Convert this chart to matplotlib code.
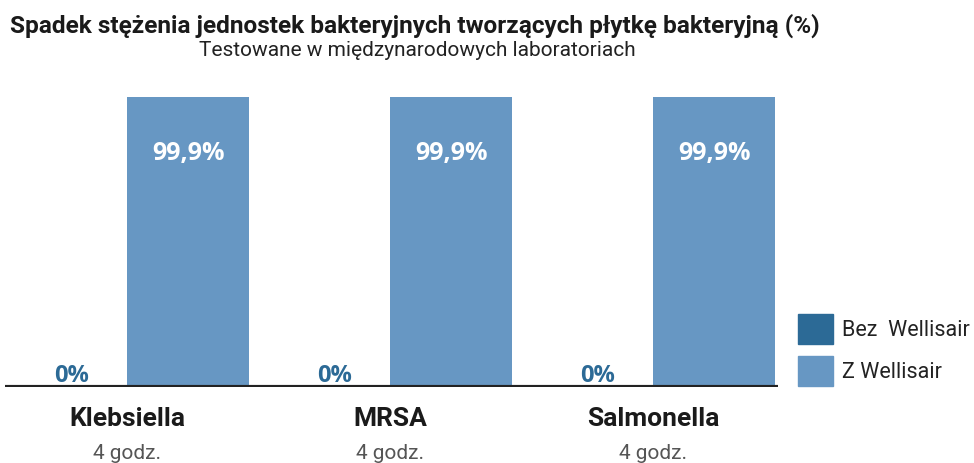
import matplotlib.pyplot as plt
from matplotlib.patches import Patch

plt.rcParams['font.family'] = ['Roboto', 'DejaVu Sans']

categories = ['Klebsiella', 'MRSA', 'Salmonella']
czas = ['4 godz.', '4 godz.', '4 godz.']
bez_wellisair = [0, 0, 0]
z_wellisair = [99.9, 99.9, 99.9]
etykiety_bez = ['0%', '0%', '0%']
etykiety_z = ['99,9%', '99,9%', '99,9%']

kolor_bez = '#2c6a96'
kolor_z = '#6797c3'

fig = plt.figure(figsize=(9.74, 4.63), dpi=100)
ax = fig.add_axes([5 / 974, 76 / 463, 773 / 974, 290 / 463])

x = list(range(len(categories)))
w = 0.464
x_bez = [i - w / 2 for i in x]
x_z = [i + w / 2 for i in x]

ax.bar(x_bez, bez_wellisair, w, color=kolor_bez)
ax.bar(x_z, z_wellisair, w, color=kolor_z)

for xi, v, t in zip(x_bez, bez_wellisair, etykiety_bez):
    ax.annotate(t, (xi + 0.02, v), xytext=(0, -1), textcoords='offset points',
                ha='center', va='bottom', color=kolor_bez, fontsize=17,
                fontweight='bold', family='Open Sans')
for xi, v, t in zip(x_z, z_wellisair, etykiety_z):
    ax.annotate(t, (xi, v), xytext=(0, -41), textcoords='offset points',
                ha='center', va='center', color='white', fontsize=18,
                fontweight='bold', family='Open Sans')

ax.set_xlim(-0.464, 2.475)
ax.set_ylim(0, 99.9)
ax.axhline(0, color='#222222', lw=3, zorder=5)
for s in ax.spines.values():
    s.set_visible(False)
ax.set_xticks([])
ax.set_yticks([])

trans = ax.get_xaxis_transform()
for xi, c, t in zip(x, categories, czas):
    ax.text(xi, -0.11, c, transform=trans, ha='center', va='center',
            fontsize=19, fontweight='bold', color='#1a1a1a', clip_on=False)
    ax.text(xi, -0.228, t, transform=trans, ha='center', va='center',
            fontsize=15, color='#555555', clip_on=False)

fig.text(10 / 974, 1 - 26 / 463, 'Spadek stężenia jednostek bakteryjnych tworzących płytkę bakteryjną (%)',
         ha='left', va='center', fontsize=17.6, fontweight='bold', color='#1a1a1a')
fig.text(417 / 974, 1 - 50 / 463, 'Testowane w międzynarodowych laboratoriach',
         ha='center', va='center', fontsize=15, color='#222222')

handles = [Patch(color=kolor_bez, label='Bez  Wellisair'),
           Patch(color=kolor_z, label='Z Wellisair')]
fig.legend(handles=handles, loc='center left', bbox_to_anchor=(789 / 974, 1 - 350 / 463),
           frameon=False, fontsize=15.5, handlelength=1.65, handleheight=1.75,
           labelspacing=0.58, handletextpad=0.4, labelcolor='#222222',
           borderaxespad=0, borderpad=0.4)

fig.savefig('out.png', dpi=100)
